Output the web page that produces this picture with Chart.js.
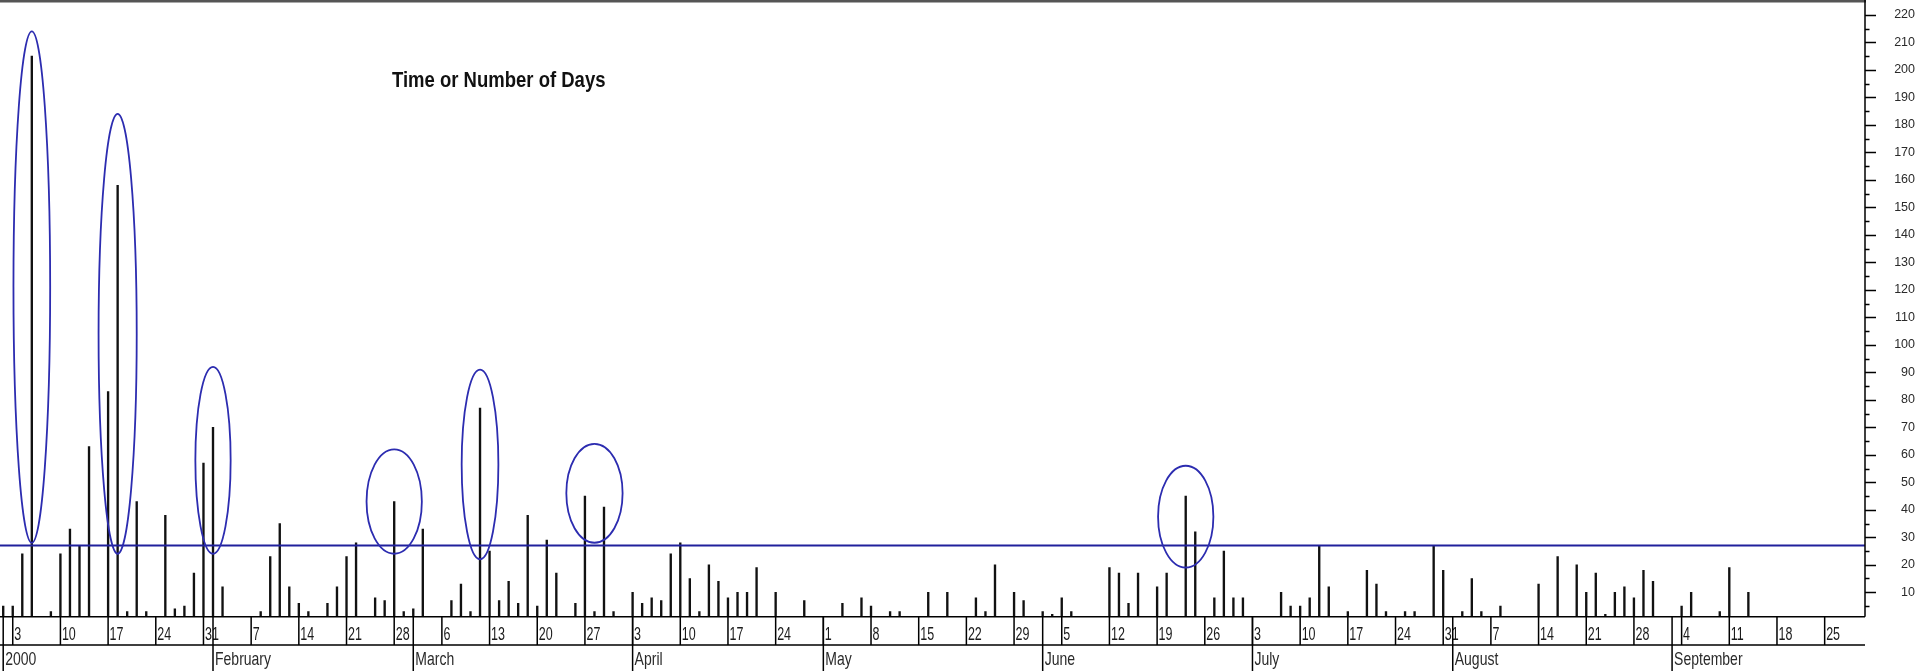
<!DOCTYPE html>
<html>
<head>
<meta charset="utf-8">
<title>Time or Number of Days</title>
<script src="https://cdn.jsdelivr.net/npm/chart.js@4"></script>
<style>
    html, body { margin: 0; padding: 0; background: #fff; }
    canvas { display: block; }
</style>
</head>
<body>
<canvas id="grafico" width="1917" height="671"></canvas>
<script>
// dias úteis mostrados no eixo (sexta 31/12/1999 até o fim de setembro)
const firstDay = '1999-12-31';
const lastDay = '2000-09-29';

// dias com barra e o valor de cada barra
const barDates = [
    '1999-12-31', '2000-01-03', '2000-01-04', '2000-01-05', '2000-01-07', '2000-01-10', '2000-01-11', '2000-01-12',
    '2000-01-13', '2000-01-17', '2000-01-18', '2000-01-19', '2000-01-20', '2000-01-21', '2000-01-25', '2000-01-26',
    '2000-01-27', '2000-01-28', '2000-01-31', '2000-02-01', '2000-02-02', '2000-02-08', '2000-02-09', '2000-02-10',
    '2000-02-11', '2000-02-14', '2000-02-15', '2000-02-17', '2000-02-18', '2000-02-21', '2000-02-22', '2000-02-24',
    '2000-02-25', '2000-02-28', '2000-02-29', '2000-03-01', '2000-03-02', '2000-03-07', '2000-03-08', '2000-03-09',
    '2000-03-10', '2000-03-13', '2000-03-14', '2000-03-15', '2000-03-16', '2000-03-17', '2000-03-20', '2000-03-21',
    '2000-03-22', '2000-03-24', '2000-03-27', '2000-03-28', '2000-03-29', '2000-03-30', '2000-04-03', '2000-04-04',
    '2000-04-05', '2000-04-06', '2000-04-07', '2000-04-10', '2000-04-11', '2000-04-12', '2000-04-13', '2000-04-14',
    '2000-04-17', '2000-04-18', '2000-04-19', '2000-04-20', '2000-04-24', '2000-04-27', '2000-05-03', '2000-05-05',
    '2000-05-08', '2000-05-10', '2000-05-11', '2000-05-16', '2000-05-18', '2000-05-23', '2000-05-24', '2000-05-25',
    '2000-05-29', '2000-05-30', '2000-06-01', '2000-06-02', '2000-06-05', '2000-06-06', '2000-06-12', '2000-06-13',
    '2000-06-14', '2000-06-15', '2000-06-19', '2000-06-20', '2000-06-22', '2000-06-23', '2000-06-27', '2000-06-28',
    '2000-06-29', '2000-06-30', '2000-07-06', '2000-07-07', '2000-07-10', '2000-07-11', '2000-07-12', '2000-07-13',
    '2000-07-17', '2000-07-19', '2000-07-20', '2000-07-21', '2000-07-25', '2000-07-26', '2000-07-28', '2000-07-31',
    '2000-08-02', '2000-08-03', '2000-08-04', '2000-08-08', '2000-08-14', '2000-08-16', '2000-08-18', '2000-08-21',
    '2000-08-22', '2000-08-23', '2000-08-24', '2000-08-25', '2000-08-28', '2000-08-29', '2000-08-30', '2000-09-04',
    '2000-09-05', '2000-09-08', '2000-09-11', '2000-09-13'
];
const barValues = [
    5, 5, 24, 205, 3, 24, 33, 27,
    63, 83, 158, 3, 43, 3, 38, 4,
    5, 17, 57, 70, 12, 3, 23, 35,
    12, 6, 3, 6, 12, 23, 28, 8,
    7, 43, 3, 4, 33, 7, 13, 3,
    77, 25, 7, 14, 6, 38, 5, 29,
    17, 6, 45, 3, 41, 3, 10, 6,
    8, 7, 24, 28, 15, 3, 20, 14,
    8, 10, 10, 19, 10, 7, 6, 8,
    5, 3, 3, 10, 10, 8, 3, 20,
    10, 7, 3, 2, 8, 3, 19, 17,
    6, 17, 12, 17, 45, 32, 8, 25,
    8, 8, 10, 5, 5, 8, 27, 12,
    3, 18, 13, 3, 3, 3, 27, 18,
    3, 15, 3, 5, 13, 23, 20, 10,
    17, 2, 10, 12, 8, 18, 14, 5,
    10, 3, 19, 10
];

// linha de referência
const threshold = 27;

// marcações de mês na segunda linha do eixo
const monthStarts = ['1999-12-31', '2000-02-01', '2000-03-01', '2000-04-03', '2000-05-01', '2000-06-01', '2000-07-03', '2000-08-01', '2000-09-01'];
const monthNames = ['2000', 'February', 'March', 'April', 'May', 'June', 'July', 'August', 'September'];

// elipses de destaque: dia central, largura (dias úteis), faixa de valores
const circleDates = ['2000-01-05', '2000-01-18', '2000-02-01', '2000-02-28', '2000-03-10', '2000-03-28', '2000-06-22'];
const circleWidths = [3.85, 4.0, 3.7, 5.8, 3.85, 5.9, 5.8];
const circleLow = [28, 24, 24, 24, 22, 28, 19];
const circleHigh = [214, 184, 92, 62, 91, 64, 56];

const yMin = 1.1;
const yMax = 224.7;

function buildTradingDays(from, to) {
    const days = [];
    const d = new Date(from + 'T00:00:00Z');
    const end = new Date(to + 'T00:00:00Z');
    while (d <= end) {
        const wd = d.getUTCDay();
        if (wd !== 0 && wd !== 6) days.push(d.toISOString().slice(0, 10));
        d.setUTCDate(d.getUTCDate() + 1);
    }
    return days;
}

const tradingDays = buildTradingDays(firstDay, lastDay);
const dayIndex = {};
tradingDays.forEach((d, i) => { dayIndex[d] = i; });

const barPoints = barDates.map((d, i) => ({ x: dayIndex[d], y: barValues[i] }));
const xMin = -0.336;
const xMax = 195.23;

function drawStretchedText(ctx, text, x, y, sy) {
    ctx.save();
    ctx.translate(x, y);
    ctx.scale(1, sy);
    ctx.fillText(text, 0, 0);
    ctx.restore();
}

const eixoDatas = {
    id: 'eixoDatas',
    afterDatasetsDraw(chart) {
        const ctx = chart.ctx;
        const xs = chart.scales.x;
        const ys = chart.scales.y;
        ctx.save();
        ctx.strokeStyle = '#2c2cb0';
        ctx.lineWidth = 1.8;
        circleDates.forEach((d, i) => {
            const cx = xs.getPixelForValue(dayIndex[d]);
            const half = xs.getPixelForValue(dayIndex[d] + circleWidths[i] / 2) - cx;
            const top = ys.getPixelForValue(circleHigh[i]);
            const bottom = ys.getPixelForValue(circleLow[i]);
            ctx.beginPath();
            ctx.ellipse(cx, (top + bottom) / 2, half, (bottom - top) / 2, 0, 0, Math.PI * 2);
            ctx.stroke();
        });
        ctx.restore();
    },
    afterDraw(chart) {
        const ctx = chart.ctx;
        const area = chart.chartArea;
        const xs = chart.scales.x;
        const ys = chart.scales.y;
        const rowBottom = area.bottom + 28.3;
        const h = chart.height;

        ctx.save();
        // borda superior
        ctx.fillStyle = '#555';
        ctx.fillRect(0, 0, area.right + 1, 2.5);

        ctx.strokeStyle = '#000';
        ctx.lineWidth = 1.5;
        ctx.beginPath();
        // eixo vertical
        ctx.moveTo(area.right, 0);
        ctx.lineTo(area.right, area.bottom);
        // base e linha inferior da faixa dos dias
        ctx.moveTo(0, area.bottom);
        ctx.lineTo(area.right, area.bottom);
        ctx.moveTo(0, rowBottom);
        ctx.lineTo(area.right, rowBottom);
        ctx.stroke();

        // marcas do eixo y (maiores em 10, menores em 5)
        ctx.lineWidth = 1.5;
        ctx.beginPath();
        for (let v = 5; v <= 220; v += 5) {
            const y = Math.round(ys.getPixelForValue(v)) + 0.5;
            const len = v % 10 === 0 ? 11 : 4.5;
            ctx.moveTo(area.right, y);
            ctx.lineTo(area.right + len, y);
        }
        ctx.stroke();

        // semanas (segundas-feiras)
        ctx.fillStyle = '#1a1a1a';
        ctx.font = '12.5px "Liberation Sans", Arial, sans-serif';
        ctx.textBaseline = 'alphabetic';
        ctx.textAlign = 'left';
        ctx.beginPath();
        tradingDays.forEach((d, i) => {
            const dt = new Date(d + 'T00:00:00Z');
            if (dt.getUTCDay() !== 1) return;
            const x = xs.getPixelForValue(i);
            if (x > area.right) return;
            ctx.moveTo(x, area.bottom);
            ctx.lineTo(x, rowBottom);
            drawStretchedText(ctx, String(dt.getUTCDate()), x + 1.5, area.bottom + 23.5, 1.5);
        });
        ctx.stroke();

        // meses
        ctx.fillStyle = '#2a2a2a';
        ctx.font = '14px "Liberation Sans", Arial, sans-serif';
        ctx.beginPath();
        monthStarts.forEach((d, i) => {
            const x = xs.getPixelForValue(dayIndex[d]);
            ctx.moveTo(x, area.bottom);
            ctx.lineTo(x, h);
            drawStretchedText(ctx, monthNames[i], x + 2, area.bottom + 48.5, 1.3);
        });
        ctx.stroke();

        // título
        ctx.fillStyle = '#111';
        ctx.font = 'bold 18.5px "Liberation Sans", Arial, sans-serif';
        drawStretchedText(ctx, 'Time or Number of Days', 392, 87, 1.2);
        ctx.restore();
    }
};

const ctx = document.getElementById('grafico');
new Chart(ctx, {
    data: {
        datasets: [
            {
                type: 'line',
                label: 'Referência',
                data: [{ x: xMin, y: threshold }, { x: xMax, y: threshold }],
                borderColor: '#20209c',
                borderWidth: 2,
                pointRadius: 0,
                order: 0
            },
            {
                type: 'bar',
                label: 'Dias',
                data: barPoints,
                backgroundColor: '#111',
                barThickness: 1.7,
                order: 1
            }
        ]
    },
    options: {
        responsive: false,
        animation: false,
        devicePixelRatio: 1,
        layout: { padding: { top: 2, bottom: 54.3, left: 0, right: 2 } },
        plugins: {
            legend: { display: false },
            tooltip: { enabled: false }
        },
        scales: {
            x: {
                type: 'linear',
                min: xMin,
                max: xMax,
                offset: false,
                display: false
            },
            y: {
                position: 'right',
                min: yMin,
                max: yMax,
                grid: { display: false },
                border: { display: false },
                ticks: {
                    stepSize: 10,
                    includeBounds: false,
                    crossAlign: 'far',
                    color: '#2a2a2a',
                    font: { family: '"Liberation Sans", Arial, sans-serif', size: 12.5 },
                    callback: (v) => (v % 10 === 0 && v > 0 ? String(v) : '')
                },
                afterFit: (scale) => {
                    scale.width = 50;
                    scale.paddingTop = 0;
                    scale.paddingBottom = 0;
                }
            }
        }
    },
    plugins: [eixoDatas]
});
</script>
</body>
</html>
